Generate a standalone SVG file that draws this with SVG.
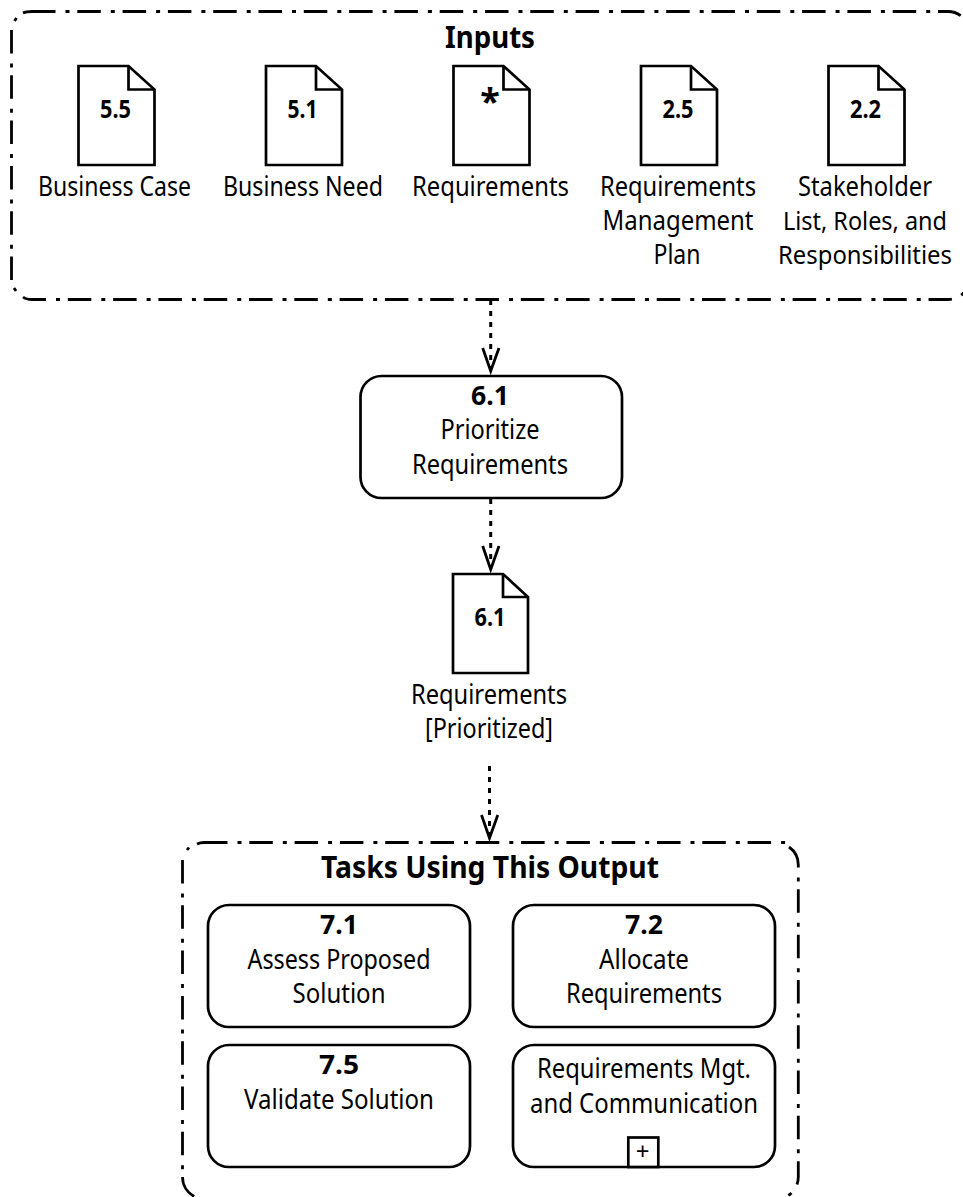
<svg xmlns="http://www.w3.org/2000/svg" width="963" height="1197" viewBox="0 0 963 1197">
<style>
text{font-family:"Noto Sans","Open Sans","Liberation Sans",sans-serif;fill:#000;text-anchor:middle;font-size:27px}
.t{font-size:30px;font-weight:700}
.m{font-size:27px;font-weight:700}
.n{font-size:25px;font-weight:700}
.s{font-size:25px}
.group{fill:none;stroke:#000;stroke-width:2.8;stroke-dasharray:23.5 10 4 7.8}
.doc,.task,.mark{fill:#fff;stroke:#000;stroke-width:2.7;stroke-linejoin:miter}
.fold{fill:none;stroke:#000;stroke-width:2.7}
.conn{fill:none;stroke:#000;stroke-width:3;stroke-dasharray:5 6}
.head{fill:none;stroke:#000;stroke-width:2.8}
</style>
<defs>
<g id="docshape"><path class="doc" d="M0 0H50L76 23.500V99H0Z"/><path class="fold" d="M50 0V23.500H76"/></g>
</defs>
<g id="inputs">
<path class="group" d="M32 11.500H948A22 22 0 0 1 970 33.500M23 13Q26 11.500 32 11.500M14.500 21L16.500 18M11.500 30V280M14 288L16 291M23 297Q26 299.500 32 299.500H948A22 22 0 0 0 970 277.500"/>
<text class="t" x="490" y="48" textLength="90" lengthAdjust="spacingAndGlyphs">Inputs</text>
</g>
<g id="doc-5-5"><use href="#docshape" x="78.500" y="66"/><text class="n" x="115.500" y="118" textLength="31" lengthAdjust="spacingAndGlyphs">5.5</text><text x="114.500" y="196" textLength="153" lengthAdjust="spacingAndGlyphs">Business Case</text></g>
<g id="doc-5-1"><use href="#docshape" x="266" y="66"/><text class="n" x="302.500" y="118" textLength="30" lengthAdjust="spacingAndGlyphs">5.1</text><text x="303" y="196" textLength="160" lengthAdjust="spacingAndGlyphs">Business Need</text></g>
<g id="doc-star"><use href="#docshape" x="453.500" y="66"/><text x="490" y="114" style="font-size:36px;font-weight:700">*</text><text x="490.500" y="196" textLength="157" lengthAdjust="spacingAndGlyphs">Requirements</text></g>
<g id="doc-2-5"><use href="#docshape" x="641" y="66"/><text class="n" x="678" y="118" textLength="31" lengthAdjust="spacingAndGlyphs">2.5</text><text x="678" y="196" textLength="156" lengthAdjust="spacingAndGlyphs">Requirements</text><text x="678" y="230" textLength="151" lengthAdjust="spacingAndGlyphs">Management</text><text x="677" y="264" textLength="47" lengthAdjust="spacingAndGlyphs">Plan</text></g>
<g id="doc-2-2"><use href="#docshape" x="828.500" y="66"/><text class="n" x="865.500" y="118" textLength="31" lengthAdjust="spacingAndGlyphs">2.2</text><text x="865" y="196" textLength="134" lengthAdjust="spacingAndGlyphs">Stakeholder</text><text class="s" x="865" y="230" textLength="164" lengthAdjust="spacingAndGlyphs">List, Roles, and</text><text class="s" x="865" y="264" textLength="174" lengthAdjust="spacingAndGlyphs">Responsibilities</text></g>
<g id="connectors">
<path class="conn" d="M490.700 300V368"/><path class="head" d="M482.700 348L490.700 371L499 348"/>
<path class="conn" d="M490.700 499V567"/><path class="head" d="M482.700 546L490.700 569.500L499 546"/>
<path class="conn" d="M489.500 766V834"/><path class="head" d="M481.500 815L489.500 838L497.800 815"/>
</g>
<g id="task-6-1"><rect class="task" x="360.500" y="376" width="261.500" height="122" rx="21"/><text class="m" x="490" y="405" textLength="38" lengthAdjust="spacingAndGlyphs">6.1</text><text x="490" y="439" textLength="99" lengthAdjust="spacingAndGlyphs">Prioritize</text><text x="490" y="474" textLength="156" lengthAdjust="spacingAndGlyphs">Requirements</text></g>
<g id="doc-6-1"><path class="doc" d="M453 574H503L528 597V673H453Z"/><path class="fold" d="M503 574V597H528"/><text class="n" x="490" y="625.500" textLength="31" lengthAdjust="spacingAndGlyphs">6.1</text><text x="489" y="703.500" textLength="156" lengthAdjust="spacingAndGlyphs">Requirements</text><text x="489" y="737.500" textLength="128" lengthAdjust="spacingAndGlyphs">[Prioritized]</text></g>
<g id="tasks-using">
<path class="group" d="M204 842.500H786M197 844Q200 842.500 204 842.500M187 850L189 847.500M182.500 860V1177A22 22 0 0 0 204.500 1199M789 847A22 22 0 0 1 798.300 865V1177A22 22 0 0 1 776.300 1199"/>
<text class="t" x="490" y="878" textLength="338" lengthAdjust="spacingAndGlyphs">Tasks Using This Output</text>
</g>
<g id="task-7-1"><rect class="task" x="208" y="905" width="262" height="122" rx="21"/><text class="m" x="339" y="934" textLength="38" lengthAdjust="spacingAndGlyphs">7.1</text><text x="339" y="968.500" textLength="183" lengthAdjust="spacingAndGlyphs">Assess Proposed</text><text x="339" y="1003" textLength="93" lengthAdjust="spacingAndGlyphs">Solution</text></g>
<g id="task-7-2"><rect class="task" x="513" y="905" width="262" height="122" rx="21"/><text class="m" x="644" y="934" textLength="38" lengthAdjust="spacingAndGlyphs">7.2</text><text x="644" y="968.500" textLength="90" lengthAdjust="spacingAndGlyphs">Allocate</text><text x="644" y="1003" textLength="156" lengthAdjust="spacingAndGlyphs">Requirements</text></g>
<g id="task-7-5"><rect class="task" x="208" y="1045" width="262" height="122" rx="21"/><text class="m" x="339" y="1074" textLength="40" lengthAdjust="spacingAndGlyphs">7.5</text><text x="339" y="1108.500" textLength="190" lengthAdjust="spacingAndGlyphs">Validate Solution</text></g>
<g id="task-rm"><rect class="task" x="513" y="1045" width="262" height="122" rx="21"/><text x="644" y="1077.500" textLength="214" lengthAdjust="spacingAndGlyphs">Requirements Mgt.</text><text x="644" y="1112.500" textLength="228" lengthAdjust="spacingAndGlyphs">and Communication</text><rect class="mark" x="628.300" y="1137.500" width="30" height="29.500"/><text x="642.700" y="1159.500" style="font-size:24px">+</text></g>
</svg>
